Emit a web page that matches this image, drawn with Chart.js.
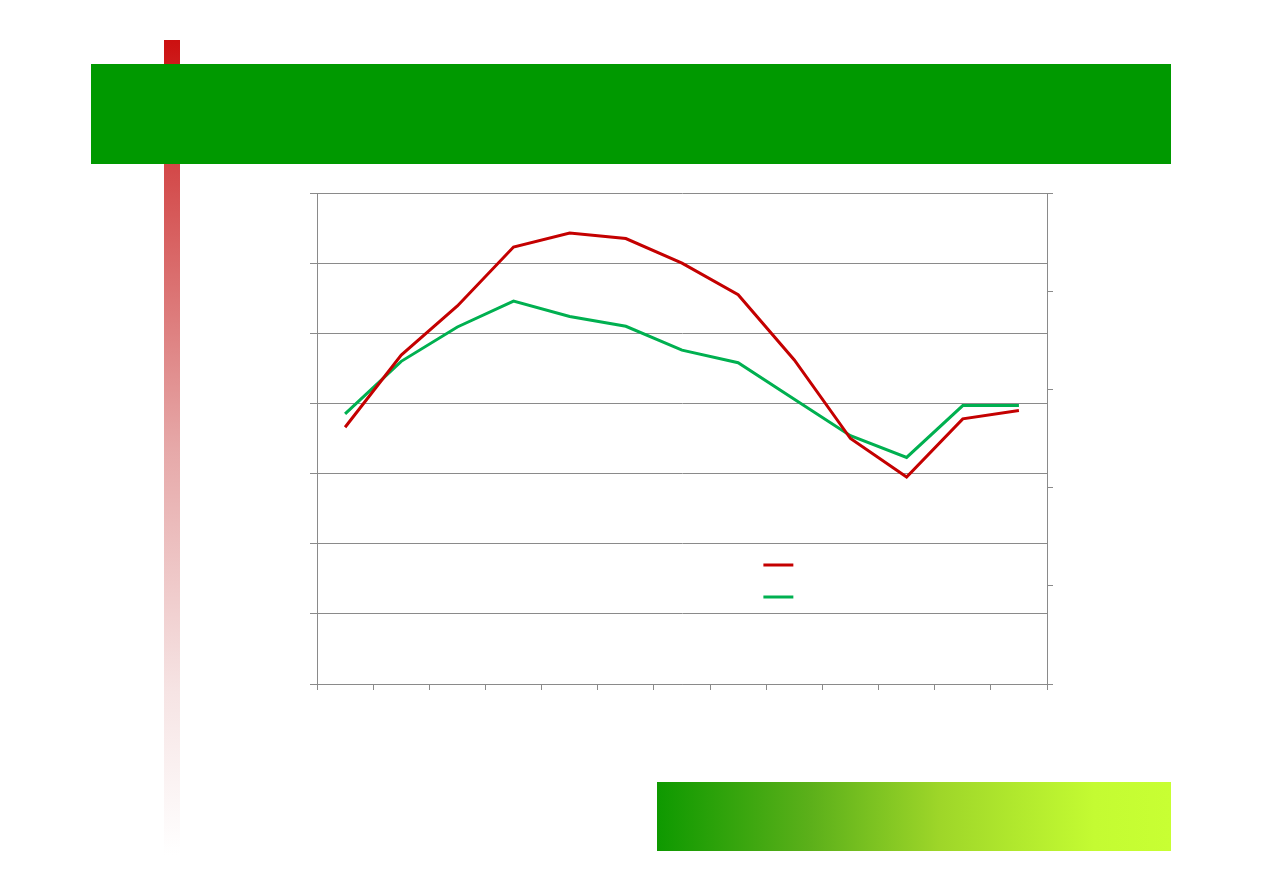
<!DOCTYPE html>
<html>
<head>
<meta charset="utf-8">
<script src="https://cdn.jsdelivr.net/npm/chart.js@4.4.1/dist/chart.umd.min.js"></script>
<style>
  html, body { margin: 0; padding: 0; background: #ffffff; }
  body { width: 1263px; height: 893px; position: relative; overflow: hidden; font-family: "Liberation Sans", Arial, sans-serif; }
  #redbar { position: absolute; left: 164px; top: 40px; width: 16px; height: 815px;
    background: linear-gradient(to bottom, #cc1010 0%, #d34a4a 16%, #e6a8a8 50%, #f6e4e4 80%, #ffffff 100%); }
  #header { position: absolute; left: 91px; top: 64px; width: 1080px; height: 100px; background: #009900; }
  #footer { position: absolute; left: 657px; top: 782px; width: 514px; height: 69px;
    background: linear-gradient(to right, #0e9900 0%, #5cb01a 30%, #9ed629 55%, #c4fb32 85%, #c8ff33 100%); }
  #wrap { position: absolute; left: 0; top: 0; width: 1263px; height: 893px; }
</style>
</head>
<body>
<div id="redbar"></div>
<div id="header"></div>
<div id="footer"></div>
<div id="wrap"><canvas id="c" width="1263" height="893"></canvas></div>
<script>
// Data (no text labels are shown in the original)
const categories = ["1", "2", "3", "4", "5", "6", "7", "8", "9", "10", "11", "12", "13"];
const seriesRed = [3.66, 4.69, 5.39, 6.23, 6.43, 6.35, 6.00, 5.55, 4.62, 3.50, 2.95, 3.78, 3.90];
const seriesGreen = [3.85, 4.60, 5.09, 5.46, 5.24, 5.10, 4.76, 4.58, 4.06, 3.54, 3.23, 3.97, 3.97];
const leftTicks = [0, 1, 2, 3, 4, 5, 6, 7];
const rightTicks = [0, 1, 2, 3, 4, 5];

const axisGray = '#8a8a8a';

const legendPlugin = {
  id: 'lineLegend',
  afterDatasetsDraw(chart) {
    const ctx = chart.ctx;
    const a = chart.chartArea;
    const x0 = a.left + (764 - 317) / (1048 - 317) * (a.right - a.left);
    const x1 = a.left + (794 - 317) / (1048 - 317) * (a.right - a.left);
    const ys = [565, 597].map(y => a.top + (y - 193) / (684 - 193) * (a.bottom - a.top));
    chart.data.datasets.forEach((ds, i) => {
      ctx.save();
      ctx.strokeStyle = ds.borderColor;
      ctx.lineWidth = 3;
      ctx.beginPath();
      ctx.moveTo(x0, ys[i]);
      ctx.lineTo(x1, ys[i]);
      ctx.stroke();
      ctx.restore();
    });
  }
};

new Chart(document.getElementById('c'), {
  type: 'line',
  data: {
    labels: categories,
    datasets: [
      { label: 'red', data: seriesRed, borderColor: '#c40000', borderWidth: 3, pointRadius: 0, tension: 0, fill: false, yAxisID: 'y' },
      { label: 'green', data: seriesGreen, borderColor: '#00b050', borderWidth: 3, pointRadius: 0, tension: 0, fill: false, yAxisID: 'y' }
    ]
  },
  options: {
    responsive: false,
    animation: false,
    events: [],
    layout: { padding: { left: 310, right: 209, top: 193, bottom: 202 } },
    plugins: { legend: { display: false }, tooltip: { enabled: false }, title: { display: false } },
    scales: {
      x: {
        type: 'category',
        offset: true,
        grid: { display: true, offset: true, drawOnChartArea: false, drawTicks: true, tickLength: 6, color: axisGray, lineWidth: 1 },
        border: { display: true, color: axisGray, width: 1 },
        ticks: { display: false },
        afterFit(s) { s.height = 7; }
      },
      y: {
        position: 'left',
        min: leftTicks[0],
        max: leftTicks[leftTicks.length - 1],
        afterBuildTicks(s) { s.ticks = leftTicks.map(v => ({ value: v })); },
        grid: { display: true, drawOnChartArea: true, drawTicks: true, tickLength: 7, color: axisGray, lineWidth: 1 },
        border: { display: true, color: axisGray, width: 1 },
        ticks: { display: false },
        afterFit(s) { s.width = 7; }
      },
      y2: {
        position: 'right',
        min: rightTicks[0],
        max: rightTicks[rightTicks.length - 1],
        afterBuildTicks(s) { s.ticks = rightTicks.map(v => ({ value: v })); },
        grid: { display: true, drawOnChartArea: false, drawTicks: true, tickLength: 6, color: axisGray, lineWidth: 1 },
        border: { display: true, color: axisGray, width: 1 },
        ticks: { display: false },
        afterFit(s) { s.width = 7; }
      }
    }
  },
  plugins: [legendPlugin]
});
</script>
</body>
</html>
